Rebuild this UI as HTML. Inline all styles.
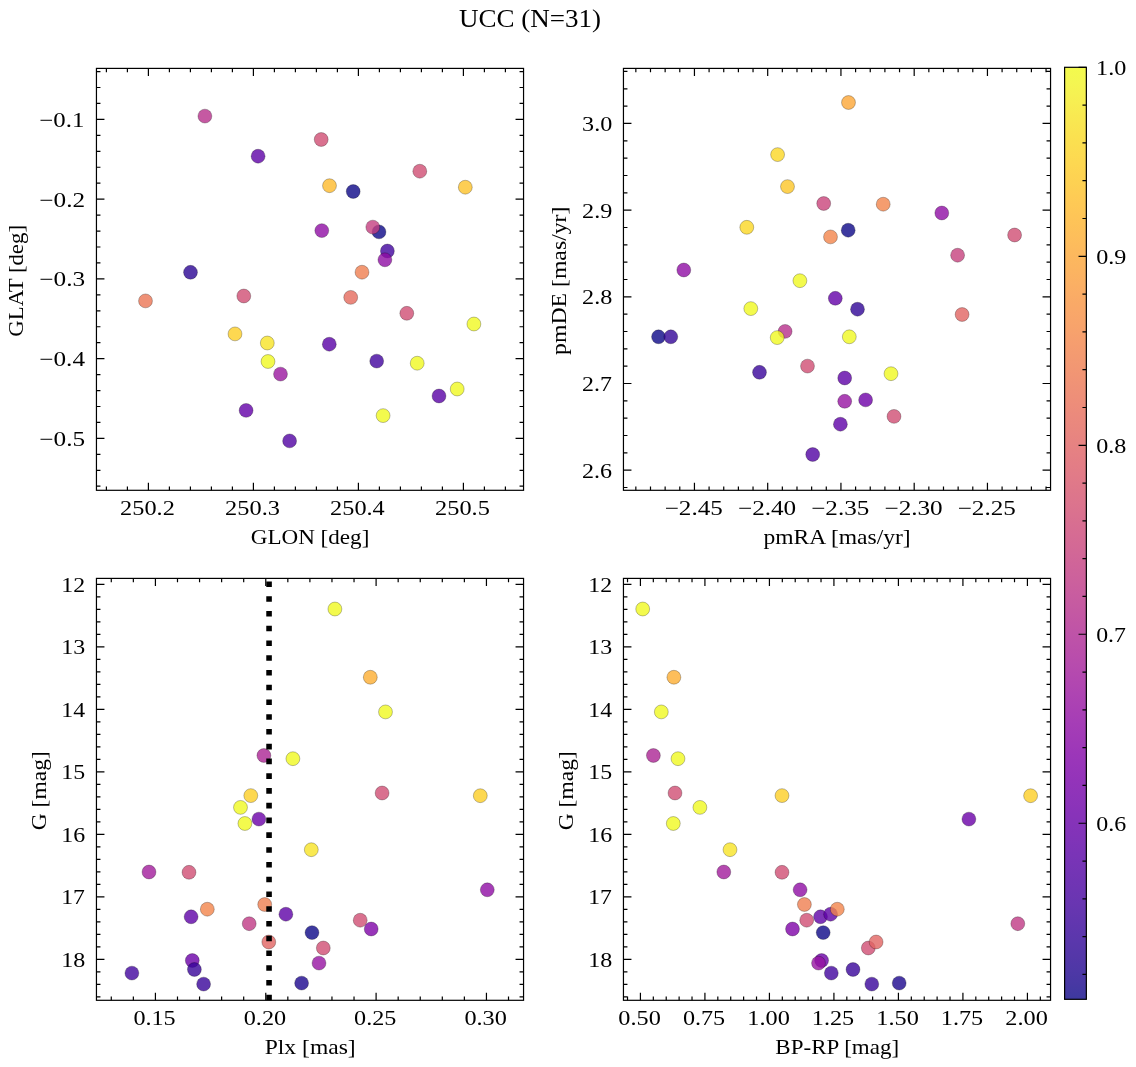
<!DOCTYPE html><html><head><meta charset="utf-8"><style>html,body{margin:0;padding:0;background:#fff}svg{display:block;will-change:transform}text{font-family:"Liberation Serif",serif;fill:#000}</style></head><body>
<svg width="1136" height="1067" viewBox="0 0 1136 1067">
<rect width="1136" height="1067" fill="#fff"/>
<g fill-opacity="0.8" stroke="#000" stroke-opacity="0.5" stroke-width="0.5">
<circle cx="204.9" cy="116.1" r="6.95" fill="#b6308b"/>
<circle cx="258.1" cy="156.2" r="6.95" fill="#5e01a6"/>
<circle cx="190.5" cy="272.3" r="6.95" fill="#2a0593"/>
<circle cx="321.2" cy="139.5" r="6.95" fill="#d04d73"/>
<circle cx="419.8" cy="171.2" r="6.95" fill="#d04d73"/>
<circle cx="329.5" cy="185.7" r="6.95" fill="#feba2c"/>
<circle cx="465.3" cy="187.2" r="6.95" fill="#fdc229"/>
<circle cx="353.2" cy="191.5" r="6.95" fill="#0d0887"/>
<circle cx="321.8" cy="230.6" r="6.95" fill="#8f0da4"/>
<circle cx="379" cy="231.9" r="6.95" fill="#0d0887"/>
<circle cx="372.8" cy="227.1" r="6.95" fill="#c43e7f"/>
<circle cx="387.4" cy="251" r="6.95" fill="#41049d"/>
<circle cx="384.9" cy="259.8" r="6.95" fill="#8f0da4"/>
<circle cx="362" cy="272.2" r="6.95" fill="#ef7e50"/>
<circle cx="145.5" cy="300.9" r="6.95" fill="#eb7655"/>
<circle cx="243.8" cy="296" r="6.95" fill="#d04d73"/>
<circle cx="235" cy="333.9" r="6.95" fill="#fcce25"/>
<circle cx="267.3" cy="343" r="6.95" fill="#f7e425"/>
<circle cx="268" cy="361.5" r="6.95" fill="#f0f921"/>
<circle cx="280.5" cy="374.1" r="6.95" fill="#9a169f"/>
<circle cx="246.1" cy="410.4" r="6.95" fill="#6300a7"/>
<circle cx="289.6" cy="440.9" r="6.95" fill="#5102a3"/>
<circle cx="350.7" cy="297.4" r="6.95" fill="#e56a5d"/>
<circle cx="406.8" cy="313.3" r="6.95" fill="#d04d73"/>
<circle cx="473.9" cy="324" r="6.95" fill="#f0f921"/>
<circle cx="329.3" cy="344.2" r="6.95" fill="#5901a5"/>
<circle cx="376.7" cy="361.1" r="6.95" fill="#41049d"/>
<circle cx="417.2" cy="363.2" r="6.95" fill="#f0f921"/>
<circle cx="457.2" cy="389" r="6.95" fill="#f0f921"/>
<circle cx="439" cy="396" r="6.95" fill="#5901a5"/>
<circle cx="383.1" cy="415.6" r="6.95" fill="#f0f921"/>
<circle cx="777.6" cy="154.6" r="6.95" fill="#fbd724"/>
<circle cx="787.5" cy="186.6" r="6.95" fill="#fdc627"/>
<circle cx="823.7" cy="203.5" r="6.95" fill="#c9447a"/>
<circle cx="746.8" cy="227.3" r="6.95" fill="#fbd724"/>
<circle cx="830.5" cy="236.9" r="6.95" fill="#f2844b"/>
<circle cx="683.8" cy="270" r="6.95" fill="#8f0da4"/>
<circle cx="799.9" cy="280.7" r="6.95" fill="#f0f921"/>
<circle cx="848.5" cy="102.5" r="6.95" fill="#fca636"/>
<circle cx="883.2" cy="204.2" r="6.95" fill="#f2844b"/>
<circle cx="941.8" cy="213" r="6.95" fill="#8f0da4"/>
<circle cx="848.2" cy="230.2" r="6.95" fill="#0d0887"/>
<circle cx="1014.6" cy="235" r="6.95" fill="#d04d73"/>
<circle cx="957.6" cy="255.2" r="6.95" fill="#c6417d"/>
<circle cx="835.3" cy="298.3" r="6.95" fill="#6300a7"/>
<circle cx="750.8" cy="308.6" r="6.95" fill="#f0f921"/>
<circle cx="658.5" cy="336.8" r="6.95" fill="#0d0887"/>
<circle cx="670.8" cy="336.8" r="6.95" fill="#330597"/>
<circle cx="785.1" cy="331.4" r="6.95" fill="#b6308b"/>
<circle cx="777.2" cy="337.6" r="6.95" fill="#f0f921"/>
<circle cx="759.5" cy="372.3" r="6.95" fill="#38049a"/>
<circle cx="807.5" cy="366.1" r="6.95" fill="#d04d73"/>
<circle cx="844.7" cy="378" r="6.95" fill="#5e01a6"/>
<circle cx="812.7" cy="454.5" r="6.95" fill="#5102a3"/>
<circle cx="857.5" cy="309.2" r="6.95" fill="#2f0596"/>
<circle cx="849.3" cy="336.8" r="6.95" fill="#f0f921"/>
<circle cx="962.1" cy="314.5" r="6.95" fill="#e16462"/>
<circle cx="891" cy="373.7" r="6.95" fill="#f0f921"/>
<circle cx="844.7" cy="401.3" r="6.95" fill="#9613a1"/>
<circle cx="865.6" cy="399.9" r="6.95" fill="#6e00a8"/>
<circle cx="894" cy="416.4" r="6.95" fill="#d04d73"/>
<circle cx="840.4" cy="424.2" r="6.95" fill="#5e01a6"/>
<circle cx="263.9" cy="755.5" r="6.95" fill="#ab2494"/>
<circle cx="292.9" cy="758.7" r="6.95" fill="#f0f921"/>
<circle cx="334.9" cy="609" r="6.95" fill="#f0f921"/>
<circle cx="370.3" cy="677.25" r="6.95" fill="#fdae32"/>
<circle cx="385.5" cy="711.9" r="6.95" fill="#f0f921"/>
<circle cx="382.1" cy="793" r="6.95" fill="#d04d73"/>
<circle cx="480.3" cy="795.7" r="6.95" fill="#fcce25"/>
<circle cx="250.8" cy="795.6" r="6.95" fill="#fcce25"/>
<circle cx="240.5" cy="807.4" r="6.95" fill="#f0f921"/>
<circle cx="244.9" cy="823.5" r="6.95" fill="#f0f921"/>
<circle cx="258.9" cy="819.1" r="6.95" fill="#6a00a8"/>
<circle cx="311.3" cy="849.7" r="6.95" fill="#f7e425"/>
<circle cx="149" cy="872" r="6.95" fill="#a11b9b"/>
<circle cx="189" cy="872.3" r="6.95" fill="#d04d73"/>
<circle cx="191.1" cy="916.8" r="6.95" fill="#5e01a6"/>
<circle cx="264.7" cy="904.5" r="6.95" fill="#ef7e50"/>
<circle cx="249.2" cy="923.7" r="6.95" fill="#bf3984"/>
<circle cx="285.9" cy="914.2" r="6.95" fill="#5e01a6"/>
<circle cx="312" cy="932.6" r="6.95" fill="#0d0887"/>
<circle cx="192.3" cy="960.5" r="6.95" fill="#6a00a8"/>
<circle cx="194.4" cy="969.5" r="6.95" fill="#38049a"/>
<circle cx="131.9" cy="973.1" r="6.95" fill="#41049d"/>
<circle cx="203.6" cy="984.1" r="6.95" fill="#38049a"/>
<circle cx="301.6" cy="983.1" r="6.95" fill="#1b068d"/>
<circle cx="487.3" cy="889.8" r="6.95" fill="#8f0da4"/>
<circle cx="360.2" cy="920.2" r="6.95" fill="#d04d73"/>
<circle cx="371.2" cy="929" r="6.95" fill="#7e03a8"/>
<circle cx="323.3" cy="948" r="6.95" fill="#d04d73"/>
<circle cx="319" cy="963.1" r="6.95" fill="#9613a1"/>
<circle cx="207.3" cy="909.2" r="6.95" fill="#f2844b"/>
<circle cx="268.8" cy="942" r="6.95" fill="#e16462"/>
<circle cx="653.4" cy="755.5" r="6.95" fill="#ab2494"/>
<circle cx="678" cy="758.7" r="6.95" fill="#f0f921"/>
<circle cx="642.7" cy="609" r="6.95" fill="#f0f921"/>
<circle cx="673.9" cy="677.25" r="6.95" fill="#fdae32"/>
<circle cx="661.3" cy="711.9" r="6.95" fill="#f0f921"/>
<circle cx="675" cy="793" r="6.95" fill="#d04d73"/>
<circle cx="1030.6" cy="795.7" r="6.95" fill="#fcce25"/>
<circle cx="782" cy="795.6" r="6.95" fill="#fcce25"/>
<circle cx="699.9" cy="807.4" r="6.95" fill="#f0f921"/>
<circle cx="673.3" cy="823.5" r="6.95" fill="#f0f921"/>
<circle cx="968.9" cy="819.1" r="6.95" fill="#6a00a8"/>
<circle cx="730" cy="849.7" r="6.95" fill="#f7e425"/>
<circle cx="723.8" cy="872" r="6.95" fill="#a11b9b"/>
<circle cx="782" cy="872.3" r="6.95" fill="#d04d73"/>
<circle cx="820.5" cy="916.8" r="6.95" fill="#5e01a6"/>
<circle cx="804.4" cy="904.5" r="6.95" fill="#ef7e50"/>
<circle cx="1017.8" cy="923.7" r="6.95" fill="#bf3984"/>
<circle cx="830.6" cy="914.2" r="6.95" fill="#5e01a6"/>
<circle cx="823.2" cy="932.6" r="6.95" fill="#0d0887"/>
<circle cx="821.6" cy="960.5" r="6.95" fill="#6a00a8"/>
<circle cx="853" cy="969.5" r="6.95" fill="#38049a"/>
<circle cx="831.3" cy="973.1" r="6.95" fill="#41049d"/>
<circle cx="871.8" cy="984.1" r="6.95" fill="#38049a"/>
<circle cx="899.2" cy="983.1" r="6.95" fill="#1b068d"/>
<circle cx="800.1" cy="889.8" r="6.95" fill="#8f0da4"/>
<circle cx="806.7" cy="920.2" r="6.95" fill="#d04d73"/>
<circle cx="792.5" cy="929" r="6.95" fill="#7e03a8"/>
<circle cx="868.3" cy="948" r="6.95" fill="#d04d73"/>
<circle cx="818.5" cy="963.1" r="6.95" fill="#9613a1"/>
<circle cx="837.3" cy="909.2" r="6.95" fill="#f2844b"/>
<circle cx="876.1" cy="942" r="6.95" fill="#e16462"/>
</g>
<line x1="269.06" y1="1000.3" x2="269.06" y2="578.4" stroke="#000" stroke-width="5.57" stroke-dasharray="5.57 9.19"/>
<path d="M106.4 490.3v-3.8M106.4 68.4v3.8M127.4 490.3v-3.8M127.4 68.4v3.8M148.4 490.3v-3.8M148.4 68.4v3.8M169.4 490.3v-3.8M169.4 68.4v3.8M190.4 490.3v-3.8M190.4 68.4v3.8M211.4 490.3v-3.8M211.4 68.4v3.8M232.4 490.3v-3.8M232.4 68.4v3.8M253.4 490.3v-3.8M253.4 68.4v3.8M274.4 490.3v-3.8M274.4 68.4v3.8M295.4 490.3v-3.8M295.4 68.4v3.8M316.4 490.3v-3.8M316.4 68.4v3.8M337.4 490.3v-3.8M337.4 68.4v3.8M358.4 490.3v-3.8M358.4 68.4v3.8M379.4 490.3v-3.8M379.4 68.4v3.8M400.4 490.3v-3.8M400.4 68.4v3.8M421.4 490.3v-3.8M421.4 68.4v3.8M442.4 490.3v-3.8M442.4 68.4v3.8M463.4 490.3v-3.8M463.4 68.4v3.8M484.4 490.3v-3.8M484.4 68.4v3.8M505.4 490.3v-3.8M505.4 68.4v3.8M148.4 490.3v-7.6M148.4 68.4v7.6M253.4 490.3v-7.6M253.4 68.4v7.6M358.4 490.3v-7.6M358.4 68.4v7.6M463.4 490.3v-7.6M463.4 68.4v7.6M96.45 486.22h4.0M523.55 486.22h-4.0M96.45 470.28h4.0M523.55 470.28h-4.0M96.45 454.33h4.0M523.55 454.33h-4.0M96.45 438.38h4.0M523.55 438.38h-4.0M96.45 422.43h4.0M523.55 422.43h-4.0M96.45 406.48h4.0M523.55 406.48h-4.0M96.45 390.54h4.0M523.55 390.54h-4.0M96.45 374.59h4.0M523.55 374.59h-4.0M96.45 358.64h4.0M523.55 358.64h-4.0M96.45 342.69h4.0M523.55 342.69h-4.0M96.45 326.74h4.0M523.55 326.74h-4.0M96.45 310.8h4.0M523.55 310.8h-4.0M96.45 294.85h4.0M523.55 294.85h-4.0M96.45 278.9h4.0M523.55 278.9h-4.0M96.45 262.95h4.0M523.55 262.95h-4.0M96.45 247h4.0M523.55 247h-4.0M96.45 231.06h4.0M523.55 231.06h-4.0M96.45 215.11h4.0M523.55 215.11h-4.0M96.45 199.16h4.0M523.55 199.16h-4.0M96.45 183.21h4.0M523.55 183.21h-4.0M96.45 167.26h4.0M523.55 167.26h-4.0M96.45 151.32h4.0M523.55 151.32h-4.0M96.45 135.37h4.0M523.55 135.37h-4.0M96.45 119.42h4.0M523.55 119.42h-4.0M96.45 103.47h4.0M523.55 103.47h-4.0M96.45 87.52h4.0M523.55 87.52h-4.0M96.45 71.58h4.0M523.55 71.58h-4.0M96.45 438.38h8.0M523.55 438.38h-8.0M96.45 358.64h8.0M523.55 358.64h-8.0M96.45 278.9h8.0M523.55 278.9h-8.0M96.45 199.16h8.0M523.55 199.16h-8.0M96.45 119.42h8.0M523.55 119.42h-8.0" stroke="#000" stroke-width="1.2" fill="none"/>
<rect x="96.45" y="68.4" width="427.1" height="421.9" stroke="#000" stroke-width="1.2" fill="none"/>
<text transform="translate(120.11,514.9) scale(1.1633,1)" font-size="20.9">250.2</text>
<text transform="translate(225.1,514.9) scale(1.1659,1)" font-size="20.9">250.3</text>
<text transform="translate(330.11,514.9) scale(1.1621,1)" font-size="20.9">250.4</text>
<text transform="translate(435.1,514.9) scale(1.1648,1)" font-size="20.9">250.5</text>
<text transform="translate(39.31,445.93) scale(1.2094,1)" font-size="20.9">−0.5</text>
<text transform="translate(39.32,366.19) scale(1.2054,1)" font-size="20.9">−0.4</text>
<text transform="translate(39.31,286.45) scale(1.2107,1)" font-size="20.9">−0.3</text>
<text transform="translate(39.32,206.71) scale(1.2078,1)" font-size="20.9">−0.2</text>
<text transform="translate(39.34,126.97) scale(1.1882,1)" font-size="20.9">−0.1</text>
<text transform="translate(250.7,544.2) scale(1.1060,1)" font-size="20.9">GLON [deg]</text>
<text transform="translate(22.8,336.8) rotate(-90) translate(0.15,0) scale(1.0917,1)" font-size="20.9">GLAT [deg]</text>
<path d="M635.84 490.3v-3.8M635.84 68.4v3.8M650.49 490.3v-3.8M650.49 68.4v3.8M665.14 490.3v-3.8M665.14 68.4v3.8M679.79 490.3v-3.8M679.79 68.4v3.8M694.44 490.3v-3.8M694.44 68.4v3.8M709.09 490.3v-3.8M709.09 68.4v3.8M723.74 490.3v-3.8M723.74 68.4v3.8M738.39 490.3v-3.8M738.39 68.4v3.8M753.04 490.3v-3.8M753.04 68.4v3.8M767.69 490.3v-3.8M767.69 68.4v3.8M782.34 490.3v-3.8M782.34 68.4v3.8M796.99 490.3v-3.8M796.99 68.4v3.8M811.64 490.3v-3.8M811.64 68.4v3.8M826.29 490.3v-3.8M826.29 68.4v3.8M840.94 490.3v-3.8M840.94 68.4v3.8M855.59 490.3v-3.8M855.59 68.4v3.8M870.24 490.3v-3.8M870.24 68.4v3.8M884.89 490.3v-3.8M884.89 68.4v3.8M899.54 490.3v-3.8M899.54 68.4v3.8M914.19 490.3v-3.8M914.19 68.4v3.8M928.84 490.3v-3.8M928.84 68.4v3.8M943.49 490.3v-3.8M943.49 68.4v3.8M958.14 490.3v-3.8M958.14 68.4v3.8M972.79 490.3v-3.8M972.79 68.4v3.8M987.44 490.3v-3.8M987.44 68.4v3.8M1002.09 490.3v-3.8M1002.09 68.4v3.8M1016.74 490.3v-3.8M1016.74 68.4v3.8M1031.39 490.3v-3.8M1031.39 68.4v3.8M1046.04 490.3v-3.8M1046.04 68.4v3.8M694.44 490.3v-7.6M694.44 68.4v7.6M767.69 490.3v-7.6M767.69 68.4v7.6M840.94 490.3v-7.6M840.94 68.4v7.6M914.19 490.3v-7.6M914.19 68.4v7.6M987.44 490.3v-7.6M987.44 68.4v7.6M623.45 487.5h4.0M1050.55 487.5h-4.0M623.45 470.17h4.0M1050.55 470.17h-4.0M623.45 452.83h4.0M1050.55 452.83h-4.0M623.45 435.5h4.0M1050.55 435.5h-4.0M623.45 418.16h4.0M1050.55 418.16h-4.0M623.45 400.83h4.0M1050.55 400.83h-4.0M623.45 383.49h4.0M1050.55 383.49h-4.0M623.45 366.16h4.0M1050.55 366.16h-4.0M623.45 348.82h4.0M1050.55 348.82h-4.0M623.45 331.49h4.0M1050.55 331.49h-4.0M623.45 314.16h4.0M1050.55 314.16h-4.0M623.45 296.82h4.0M1050.55 296.82h-4.0M623.45 279.49h4.0M1050.55 279.49h-4.0M623.45 262.15h4.0M1050.55 262.15h-4.0M623.45 244.82h4.0M1050.55 244.82h-4.0M623.45 227.48h4.0M1050.55 227.48h-4.0M623.45 210.15h4.0M1050.55 210.15h-4.0M623.45 192.81h4.0M1050.55 192.81h-4.0M623.45 175.48h4.0M1050.55 175.48h-4.0M623.45 158.14h4.0M1050.55 158.14h-4.0M623.45 140.81h4.0M1050.55 140.81h-4.0M623.45 123.47h4.0M1050.55 123.47h-4.0M623.45 106.13h4.0M1050.55 106.13h-4.0M623.45 88.8h4.0M1050.55 88.8h-4.0M623.45 71.46h4.0M1050.55 71.46h-4.0M623.45 470.17h8.0M1050.55 470.17h-8.0M623.45 383.49h8.0M1050.55 383.49h-8.0M623.45 296.82h8.0M1050.55 296.82h-8.0M623.45 210.15h8.0M1050.55 210.15h-8.0M623.45 123.47h8.0M1050.55 123.47h-8.0" stroke="#000" stroke-width="1.2" fill="none"/>
<rect x="623.45" y="68.4" width="427.1" height="421.9" stroke="#000" stroke-width="1.2" fill="none"/>
<text transform="translate(664.69,514.9) scale(1.2025,1)" font-size="20.9">−2.45</text>
<text transform="translate(737.94,514.9) scale(1.2053,1)" font-size="20.9">−2.40</text>
<text transform="translate(811.19,514.9) scale(1.2025,1)" font-size="20.9">−2.35</text>
<text transform="translate(884.44,514.9) scale(1.2053,1)" font-size="20.9">−2.30</text>
<text transform="translate(957.69,514.9) scale(1.2025,1)" font-size="20.9">−2.25</text>
<text transform="translate(582.08,477.72) scale(1.1509,1)" font-size="20.9">2.6</text>
<text transform="translate(582.09,391.04) scale(1.1426,1)" font-size="20.9">2.7</text>
<text transform="translate(582.08,304.37) scale(1.1563,1)" font-size="20.9">2.8</text>
<text transform="translate(582.08,217.7) scale(1.1588,1)" font-size="20.9">2.9</text>
<text transform="translate(582.1,131.02) scale(1.1553,1)" font-size="20.9">3.0</text>
<text transform="translate(763.47,544.2) scale(1.1278,1)" font-size="20.9">pmRA [mas/yr]</text>
<text transform="translate(565.9,355.11) rotate(-90) translate(0.18,0) scale(1.1366,1)" font-size="20.9">pmDE [mas/yr]</text>
<path d="M111.28 1000.3v-3.8M111.28 578.4v3.8M133.35 1000.3v-3.8M133.35 578.4v3.8M155.42 1000.3v-3.8M155.42 578.4v3.8M177.49 1000.3v-3.8M177.49 578.4v3.8M199.56 1000.3v-3.8M199.56 578.4v3.8M221.62 1000.3v-3.8M221.62 578.4v3.8M243.69 1000.3v-3.8M243.69 578.4v3.8M265.76 1000.3v-3.8M265.76 578.4v3.8M287.83 1000.3v-3.8M287.83 578.4v3.8M309.9 1000.3v-3.8M309.9 578.4v3.8M331.96 1000.3v-3.8M331.96 578.4v3.8M354.03 1000.3v-3.8M354.03 578.4v3.8M376.1 1000.3v-3.8M376.1 578.4v3.8M398.17 1000.3v-3.8M398.17 578.4v3.8M420.24 1000.3v-3.8M420.24 578.4v3.8M442.3 1000.3v-3.8M442.3 578.4v3.8M464.37 1000.3v-3.8M464.37 578.4v3.8M486.44 1000.3v-3.8M486.44 578.4v3.8M508.51 1000.3v-3.8M508.51 578.4v3.8M155.42 1000.3v-7.6M155.42 578.4v7.6M265.76 1000.3v-7.6M265.76 578.4v7.6M376.1 1000.3v-7.6M376.1 578.4v7.6M486.44 1000.3v-7.6M486.44 578.4v7.6M96.45 584.43h4.0M523.55 584.43h-4.0M96.45 596.93h4.0M523.55 596.93h-4.0M96.45 609.43h4.0M523.55 609.43h-4.0M96.45 621.93h4.0M523.55 621.93h-4.0M96.45 634.43h4.0M523.55 634.43h-4.0M96.45 646.93h4.0M523.55 646.93h-4.0M96.45 659.43h4.0M523.55 659.43h-4.0M96.45 671.93h4.0M523.55 671.93h-4.0M96.45 684.43h4.0M523.55 684.43h-4.0M96.45 696.93h4.0M523.55 696.93h-4.0M96.45 709.43h4.0M523.55 709.43h-4.0M96.45 721.93h4.0M523.55 721.93h-4.0M96.45 734.43h4.0M523.55 734.43h-4.0M96.45 746.93h4.0M523.55 746.93h-4.0M96.45 759.43h4.0M523.55 759.43h-4.0M96.45 771.93h4.0M523.55 771.93h-4.0M96.45 784.43h4.0M523.55 784.43h-4.0M96.45 796.93h4.0M523.55 796.93h-4.0M96.45 809.43h4.0M523.55 809.43h-4.0M96.45 821.93h4.0M523.55 821.93h-4.0M96.45 834.43h4.0M523.55 834.43h-4.0M96.45 846.93h4.0M523.55 846.93h-4.0M96.45 859.43h4.0M523.55 859.43h-4.0M96.45 871.93h4.0M523.55 871.93h-4.0M96.45 884.43h4.0M523.55 884.43h-4.0M96.45 896.93h4.0M523.55 896.93h-4.0M96.45 909.43h4.0M523.55 909.43h-4.0M96.45 921.93h4.0M523.55 921.93h-4.0M96.45 934.43h4.0M523.55 934.43h-4.0M96.45 946.93h4.0M523.55 946.93h-4.0M96.45 959.43h4.0M523.55 959.43h-4.0M96.45 971.93h4.0M523.55 971.93h-4.0M96.45 984.43h4.0M523.55 984.43h-4.0M96.45 996.93h4.0M523.55 996.93h-4.0M96.45 584.43h8.0M523.55 584.43h-8.0M96.45 646.93h8.0M523.55 646.93h-8.0M96.45 709.43h8.0M523.55 709.43h-8.0M96.45 771.93h8.0M523.55 771.93h-8.0M96.45 834.43h8.0M523.55 834.43h-8.0M96.45 896.93h8.0M523.55 896.93h-8.0M96.45 959.43h8.0M523.55 959.43h-8.0" stroke="#000" stroke-width="1.2" fill="none"/>
<rect x="96.45" y="578.4" width="427.1" height="421.9" stroke="#000" stroke-width="1.2" fill="none"/>
<text transform="translate(133.38,1024.9) scale(1.1572,1)" font-size="20.9">0.15</text>
<text transform="translate(243.71,1024.9) scale(1.1610,1)" font-size="20.9">0.20</text>
<text transform="translate(354.06,1024.9) scale(1.1572,1)" font-size="20.9">0.25</text>
<text transform="translate(464.39,1024.9) scale(1.1610,1)" font-size="20.9">0.30</text>
<text transform="translate(61.26,591.98) scale(1.1393,1)" font-size="20.9">12</text>
<text transform="translate(61.24,654.48) scale(1.1463,1)" font-size="20.9">13</text>
<text transform="translate(61.26,716.98) scale(1.1377,1)" font-size="20.9">14</text>
<text transform="translate(61.25,779.48) scale(1.1437,1)" font-size="20.9">15</text>
<text transform="translate(61.25,841.98) scale(1.1439,1)" font-size="20.9">16</text>
<text transform="translate(61.27,904.48) scale(1.1328,1)" font-size="20.9">17</text>
<text transform="translate(61.24,966.98) scale(1.1510,1)" font-size="20.9">18</text>
<text transform="translate(264.71,1054.2) scale(1.1288,1)" font-size="20.9">Plx [mas]</text>
<text transform="translate(45.9,830.44) rotate(-90) translate(0.12,0) scale(1.1269,1)" font-size="20.9">G [mag]</text>
<path d="M627.52 1000.3v-3.8M627.52 578.4v3.8M640.42 1000.3v-3.8M640.42 578.4v3.8M653.32 1000.3v-3.8M653.32 578.4v3.8M666.22 1000.3v-3.8M666.22 578.4v3.8M679.12 1000.3v-3.8M679.12 578.4v3.8M692.02 1000.3v-3.8M692.02 578.4v3.8M704.92 1000.3v-3.8M704.92 578.4v3.8M717.82 1000.3v-3.8M717.82 578.4v3.8M730.72 1000.3v-3.8M730.72 578.4v3.8M743.62 1000.3v-3.8M743.62 578.4v3.8M756.52 1000.3v-3.8M756.52 578.4v3.8M769.42 1000.3v-3.8M769.42 578.4v3.8M782.32 1000.3v-3.8M782.32 578.4v3.8M795.22 1000.3v-3.8M795.22 578.4v3.8M808.12 1000.3v-3.8M808.12 578.4v3.8M821.02 1000.3v-3.8M821.02 578.4v3.8M833.92 1000.3v-3.8M833.92 578.4v3.8M846.82 1000.3v-3.8M846.82 578.4v3.8M859.72 1000.3v-3.8M859.72 578.4v3.8M872.62 1000.3v-3.8M872.62 578.4v3.8M885.52 1000.3v-3.8M885.52 578.4v3.8M898.42 1000.3v-3.8M898.42 578.4v3.8M911.32 1000.3v-3.8M911.32 578.4v3.8M924.22 1000.3v-3.8M924.22 578.4v3.8M937.12 1000.3v-3.8M937.12 578.4v3.8M950.02 1000.3v-3.8M950.02 578.4v3.8M962.92 1000.3v-3.8M962.92 578.4v3.8M975.82 1000.3v-3.8M975.82 578.4v3.8M988.72 1000.3v-3.8M988.72 578.4v3.8M1001.62 1000.3v-3.8M1001.62 578.4v3.8M1014.52 1000.3v-3.8M1014.52 578.4v3.8M1027.42 1000.3v-3.8M1027.42 578.4v3.8M1040.32 1000.3v-3.8M1040.32 578.4v3.8M640.42 1000.3v-7.6M640.42 578.4v7.6M704.92 1000.3v-7.6M704.92 578.4v7.6M769.42 1000.3v-7.6M769.42 578.4v7.6M833.92 1000.3v-7.6M833.92 578.4v7.6M898.42 1000.3v-7.6M898.42 578.4v7.6M962.92 1000.3v-7.6M962.92 578.4v7.6M1027.42 1000.3v-7.6M1027.42 578.4v7.6M623.45 584.43h4.0M1050.55 584.43h-4.0M623.45 596.93h4.0M1050.55 596.93h-4.0M623.45 609.43h4.0M1050.55 609.43h-4.0M623.45 621.93h4.0M1050.55 621.93h-4.0M623.45 634.43h4.0M1050.55 634.43h-4.0M623.45 646.93h4.0M1050.55 646.93h-4.0M623.45 659.43h4.0M1050.55 659.43h-4.0M623.45 671.93h4.0M1050.55 671.93h-4.0M623.45 684.43h4.0M1050.55 684.43h-4.0M623.45 696.93h4.0M1050.55 696.93h-4.0M623.45 709.43h4.0M1050.55 709.43h-4.0M623.45 721.93h4.0M1050.55 721.93h-4.0M623.45 734.43h4.0M1050.55 734.43h-4.0M623.45 746.93h4.0M1050.55 746.93h-4.0M623.45 759.43h4.0M1050.55 759.43h-4.0M623.45 771.93h4.0M1050.55 771.93h-4.0M623.45 784.43h4.0M1050.55 784.43h-4.0M623.45 796.93h4.0M1050.55 796.93h-4.0M623.45 809.43h4.0M1050.55 809.43h-4.0M623.45 821.93h4.0M1050.55 821.93h-4.0M623.45 834.43h4.0M1050.55 834.43h-4.0M623.45 846.93h4.0M1050.55 846.93h-4.0M623.45 859.43h4.0M1050.55 859.43h-4.0M623.45 871.93h4.0M1050.55 871.93h-4.0M623.45 884.43h4.0M1050.55 884.43h-4.0M623.45 896.93h4.0M1050.55 896.93h-4.0M623.45 909.43h4.0M1050.55 909.43h-4.0M623.45 921.93h4.0M1050.55 921.93h-4.0M623.45 934.43h4.0M1050.55 934.43h-4.0M623.45 946.93h4.0M1050.55 946.93h-4.0M623.45 959.43h4.0M1050.55 959.43h-4.0M623.45 971.93h4.0M1050.55 971.93h-4.0M623.45 984.43h4.0M1050.55 984.43h-4.0M623.45 996.93h4.0M1050.55 996.93h-4.0M623.45 584.43h8.0M1050.55 584.43h-8.0M623.45 646.93h8.0M1050.55 646.93h-8.0M623.45 709.43h8.0M1050.55 709.43h-8.0M623.45 771.93h8.0M1050.55 771.93h-8.0M623.45 834.43h8.0M1050.55 834.43h-8.0M623.45 896.93h8.0M1050.55 896.93h-8.0M623.45 959.43h8.0M1050.55 959.43h-8.0" stroke="#000" stroke-width="1.2" fill="none"/>
<rect x="623.45" y="578.4" width="427.1" height="421.9" stroke="#000" stroke-width="1.2" fill="none"/>
<text transform="translate(618.37,1024.9) scale(1.1610,1)" font-size="20.9">0.50</text>
<text transform="translate(682.88,1024.9) scale(1.1572,1)" font-size="20.9">0.75</text>
<text transform="translate(747.27,1024.9) scale(1.1639,1)" font-size="20.9">1.00</text>
<text transform="translate(811.78,1024.9) scale(1.1599,1)" font-size="20.9">1.25</text>
<text transform="translate(876.27,1024.9) scale(1.1639,1)" font-size="20.9">1.50</text>
<text transform="translate(940.78,1024.9) scale(1.1599,1)" font-size="20.9">1.75</text>
<text transform="translate(1005.3,1024.9) scale(1.1631,1)" font-size="20.9">2.00</text>
<text transform="translate(588.26,591.98) scale(1.1393,1)" font-size="20.9">12</text>
<text transform="translate(588.24,654.48) scale(1.1463,1)" font-size="20.9">13</text>
<text transform="translate(588.26,716.98) scale(1.1377,1)" font-size="20.9">14</text>
<text transform="translate(588.25,779.48) scale(1.1437,1)" font-size="20.9">15</text>
<text transform="translate(588.25,841.98) scale(1.1439,1)" font-size="20.9">16</text>
<text transform="translate(588.27,904.48) scale(1.1328,1)" font-size="20.9">17</text>
<text transform="translate(588.24,966.98) scale(1.1510,1)" font-size="20.9">18</text>
<text transform="translate(775.36,1054.2) scale(1.1005,1)" font-size="20.9">BP-RP [mag]</text>
<text transform="translate(573,830.44) rotate(-90) translate(0.12,0) scale(1.1269,1)" font-size="20.9">G [mag]</text>
<defs><linearGradient id="cb" x1="0" y1="0" x2="0" y2="1"><stop offset="0.0000" stop-color="#f0f921"/><stop offset="0.0156" stop-color="#f1f426"/><stop offset="0.0312" stop-color="#f4ed27"/><stop offset="0.0469" stop-color="#f6e626"/><stop offset="0.0625" stop-color="#f8df25"/><stop offset="0.0781" stop-color="#fad824"/><stop offset="0.0938" stop-color="#fcd225"/><stop offset="0.1094" stop-color="#fdcb26"/><stop offset="0.1250" stop-color="#fdc527"/><stop offset="0.1406" stop-color="#febe2a"/><stop offset="0.1562" stop-color="#feb82c"/><stop offset="0.1719" stop-color="#fdb22f"/><stop offset="0.1875" stop-color="#fdac33"/><stop offset="0.2031" stop-color="#fca636"/><stop offset="0.2188" stop-color="#fba139"/><stop offset="0.2344" stop-color="#fa9b3d"/><stop offset="0.2500" stop-color="#f89540"/><stop offset="0.2656" stop-color="#f79044"/><stop offset="0.2812" stop-color="#f58b47"/><stop offset="0.2969" stop-color="#f3854b"/><stop offset="0.3125" stop-color="#f0804e"/><stop offset="0.3281" stop-color="#ee7b51"/><stop offset="0.3438" stop-color="#eb7655"/><stop offset="0.3594" stop-color="#e97158"/><stop offset="0.3750" stop-color="#e66c5c"/><stop offset="0.3906" stop-color="#e3685f"/><stop offset="0.4062" stop-color="#e06363"/><stop offset="0.4219" stop-color="#dd5e66"/><stop offset="0.4375" stop-color="#da5a6a"/><stop offset="0.4531" stop-color="#d6556d"/><stop offset="0.4688" stop-color="#d35171"/><stop offset="0.4844" stop-color="#cf4c74"/><stop offset="0.5000" stop-color="#cc4778"/><stop offset="0.5156" stop-color="#c8437b"/><stop offset="0.5312" stop-color="#c43e7f"/><stop offset="0.5469" stop-color="#c03a83"/><stop offset="0.5625" stop-color="#bc3587"/><stop offset="0.5781" stop-color="#b7318a"/><stop offset="0.5938" stop-color="#b32c8e"/><stop offset="0.6094" stop-color="#ae2892"/><stop offset="0.6250" stop-color="#aa2395"/><stop offset="0.6406" stop-color="#a51f99"/><stop offset="0.6562" stop-color="#a01a9c"/><stop offset="0.6719" stop-color="#9a169f"/><stop offset="0.6875" stop-color="#9511a1"/><stop offset="0.7031" stop-color="#8f0da4"/><stop offset="0.7188" stop-color="#8a09a5"/><stop offset="0.7344" stop-color="#8405a7"/><stop offset="0.7500" stop-color="#7e03a8"/><stop offset="0.7656" stop-color="#7801a8"/><stop offset="0.7812" stop-color="#7201a8"/><stop offset="0.7969" stop-color="#6c00a8"/><stop offset="0.8125" stop-color="#6600a7"/><stop offset="0.8281" stop-color="#6001a6"/><stop offset="0.8438" stop-color="#5901a5"/><stop offset="0.8594" stop-color="#5302a3"/><stop offset="0.8750" stop-color="#4c02a1"/><stop offset="0.8906" stop-color="#46039f"/><stop offset="0.9062" stop-color="#3f049c"/><stop offset="0.9219" stop-color="#38049a"/><stop offset="0.9375" stop-color="#310597"/><stop offset="0.9531" stop-color="#2a0593"/><stop offset="0.9688" stop-color="#220690"/><stop offset="0.9844" stop-color="#19068c"/><stop offset="1.0000" stop-color="#0d0887"/></linearGradient></defs>
<rect x="1064.6" y="67.3" width="21.75" height="932" fill="url(#cb)" fill-opacity="0.8"/>
<path d="M1086.35 974.45h-3.9M1086.35 936.65h-3.9M1086.35 898.86h-3.9M1086.35 861.06h-3.9M1086.35 823.26h-7.8M1086.35 785.46h-3.9M1086.35 747.66h-3.9M1086.35 709.87h-3.9M1086.35 672.07h-3.9M1086.35 634.27h-7.8M1086.35 596.47h-3.9M1086.35 558.67h-3.9M1086.35 520.88h-3.9M1086.35 483.08h-3.9M1086.35 445.28h-7.8M1086.35 407.48h-3.9M1086.35 369.68h-3.9M1086.35 331.89h-3.9M1086.35 294.09h-3.9M1086.35 256.29h-7.8M1086.35 218.49h-3.9M1086.35 180.69h-3.9M1086.35 142.9h-3.9M1086.35 105.1h-3.9M1086.35 67.3h-7.8" stroke="#000" stroke-width="1.2" fill="none"/>
<rect x="1064.6" y="67.3" width="21.75" height="932" stroke="#000" stroke-width="1.2" fill="none"/>
<text transform="translate(1096.16,830.81) scale(1.1480,1)" font-size="20.9">0.6</text>
<text transform="translate(1096.17,641.82) scale(1.1397,1)" font-size="20.9">0.7</text>
<text transform="translate(1096.16,452.83) scale(1.1534,1)" font-size="20.9">0.8</text>
<text transform="translate(1096.16,263.84) scale(1.1558,1)" font-size="20.9">0.9</text>
<text transform="translate(1096.06,74.85) scale(1.1572,1)" font-size="20.9">1.0</text>
<text transform="translate(459.06,26.8) scale(1.0946,1)" font-size="24.7">UCC (N=31)</text>
</svg></body></html>
